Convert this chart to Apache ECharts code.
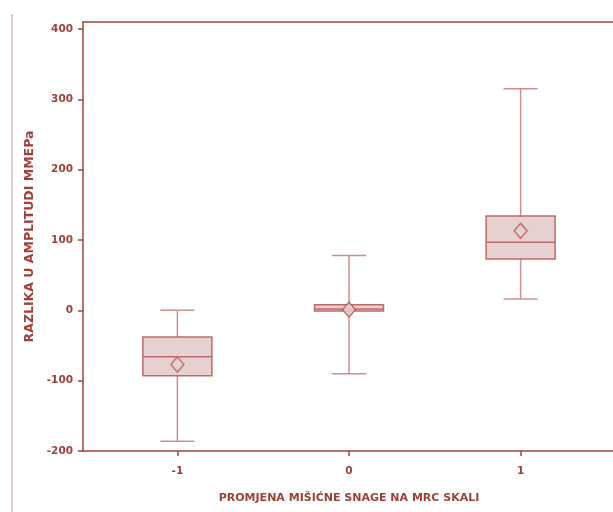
<!DOCTYPE html>
<html><head><meta charset="utf-8">
<script src="https://cdn.jsdelivr.net/npm/echarts@6/dist/echarts.min.js"></script>
<style>html,body{margin:0;padding:0;background:#fff}#c{width:613px;height:512px}</style>
</head><body><div id="c"></div>
<script>
const categories = [-1, 0, 1];
const whiskerLow = [-186, -90, 16];
const q1 = [-93, -1, 73];
const median = [-66, 2, 97];
const q3 = [-38, 8, 134];
const whiskerHigh = [0, 78, 315];
const means = [-77, 1, 113];
const yTicks = [-200, -100, 0, 100, 200, 300, 400];
const xTicks = [-1, 0, 1];

const axisColor = '#a5443e';
const boxStroke = '#bf6a6a';
const boxFill = '#e7d0d0';
const whiskerColor = '#cf8f8f';
const textColor = '#a0403a';
const font = 'DejaVu Sans';

const boxData = categories.map((c, i) => [c, whiskerLow[i], q1[i], median[i], q3[i], whiskerHigh[i]]);
const meanData = categories.map((c, i) => [c, means[i]]);

const chart = echarts.init(document.getElementById('c'));
chart.setOption({
  animation: false,
  backgroundColor: '#fff',
  grid: { left: 83, top: 22, right: -2, bottom: 61, outerBoundsMode: 'none', containLabel: false },
  graphic: [{ type: 'line', shape: { x1: 12, y1: 14, x2: 12, y2: 512 }, style: { stroke: '#dcbcbc', lineWidth: 1.5 } }],
  xAxis: [{
    type: 'value', min: -1.55, max: 1.55,
    name: 'PROMJENA MIŠIĆNE SNAGE NA MRC SKALI', nameLocation: 'middle', nameGap: 42,
    nameTextStyle: { color: textColor, fontFamily: font, fontWeight: 'bold', fontSize: 11 },
    axisLine: { show: true, onZero: false, lineStyle: { color: axisColor, width: 1.5 } },
    axisTick: { show: true, length: 5, customValues: xTicks, lineStyle: { color: axisColor, width: 1.5 } },
    axisLabel: { customValues: xTicks, color: textColor, fontFamily: font, fontWeight: 'bold', fontSize: 10.5, margin: 15 },
    splitLine: { show: false }
  }, {
    type: 'value', min: -1.55, max: 1.55, position: 'top',
    axisLine: { show: true, onZero: false, lineStyle: { color: axisColor, width: 1.5 } },
    axisTick: { show: false }, axisLabel: { show: false }, splitLine: { show: false }
  }],
  yAxis: {
    type: 'value', min: -200, max: 410,
    name: 'RAZLIKA U AMPLITUDI MMEPa', nameLocation: 'middle', nameGap: 46, nameRotate: 90,
    nameTextStyle: { color: textColor, fontFamily: font, fontWeight: 'bold', fontSize: 12.5 },
    axisLine: { show: true, onZero: false, lineStyle: { color: axisColor, width: 1.5 } },
    axisTick: { show: true, length: 5, customValues: yTicks, lineStyle: { color: axisColor, width: 1.5 } },
    axisLabel: { customValues: yTicks, color: textColor, fontFamily: font, fontWeight: 'bold', fontSize: 10.5, margin: 10 },
    splitLine: { show: false }
  },
  series: [
    {
      type: 'custom',
      data: boxData,
      encode: { x: 0, y: [1, 2, 3, 4, 5] },
      renderItem: function (params, api) {
        const x = api.value(0);
        const pLow = api.coord([x, api.value(1)]);
        const pQ1 = api.coord([x, api.value(2)]);
        const pMed = api.coord([x, api.value(3)]);
        const pQ3 = api.coord([x, api.value(4)]);
        const pHigh = api.coord([x, api.value(5)]);
        const hw = 34.5, cw = 17;
        const cx = pLow[0];
        const wStyle = { stroke: whiskerColor, lineWidth: 1.5 };
        return {
          type: 'group',
          children: [
            { type: 'line', shape: { x1: cx, y1: pHigh[1], x2: cx, y2: pQ3[1] }, style: wStyle },
            { type: 'line', shape: { x1: cx, y1: pQ1[1], x2: cx, y2: pLow[1] }, style: wStyle },
            { type: 'line', shape: { x1: cx - cw, y1: pHigh[1], x2: cx + cw, y2: pHigh[1] }, style: wStyle },
            { type: 'line', shape: { x1: cx - cw, y1: pLow[1], x2: cx + cw, y2: pLow[1] }, style: wStyle },
            { type: 'rect', shape: { x: cx - hw, y: pQ3[1], width: hw * 2, height: pQ1[1] - pQ3[1] }, style: { fill: boxFill, stroke: boxStroke, lineWidth: 1.5 } },
            { type: 'line', shape: { x1: cx - hw, y1: pMed[1], x2: cx + hw, y2: pMed[1] }, style: { stroke: boxStroke, lineWidth: 1.5 } }
          ]
        };
      }
    },
    {
      type: 'scatter',
      data: meanData,
      symbol: 'diamond',
      symbolSize: [13, 15],
      itemStyle: { color: boxFill, borderColor: '#b75a5a', borderWidth: 1.5 },
      z: 5
    }
  ]
});
</script>
</body></html>
